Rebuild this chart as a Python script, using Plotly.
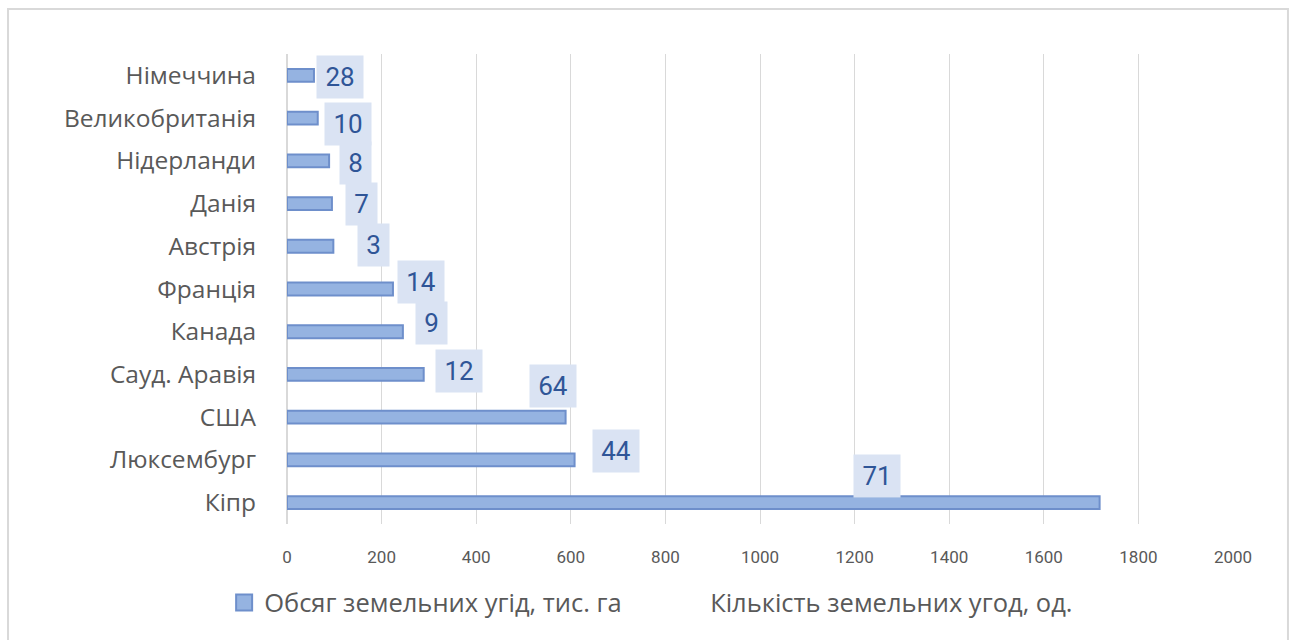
import plotly.graph_objects as go

# countries top -> bottom as in the source chart
countries = [
    "Німеччина", "Великобританія", "Нідерланди", "Данія", "Австрія",
    "Франція", "Канада", "Сауд. Аравія", "США", "Люксембург", "Кіпр",
]
# land area, thousand ha
area = [57, 65, 89, 95, 98, 224, 245, 289, 589, 608, 1718]
# number of land deals
deals = [28, 10, 8, 7, 3, 14, 9, 12, 64, 44, 71]

area_name = "Обсяг земельних угід, тис. га"
deals_name = "Кількість земельних угод, од."

# hand-placed data label spots (x in axis units, vertical shift in px)
label_x = [111, 130, 145, 157, 182, 283, 306, 363, 562, 695, 1247]
label_dy = [-2, -6, -2, 0, 1, 7, 9, 3, 31, 9, 27]

GRAY = "#595959"
GRID = "#d9d9d9"
BAR_FILL = "#95B3E1"
BAR_LINE = "#6E8FCB"
TEXT_FONT = "Open Sans, sans-serif"

fig = go.Figure()
fig.add_trace(go.Bar(
    y=countries, x=area, orientation="h", name=area_name,
    width=0.3, showlegend=False,
    marker=dict(color=BAR_FILL, line=dict(color=BAR_LINE, width=2)),
))
# legend swatch only (bigger square than the bar legend glyph)
fig.add_trace(go.Scatter(
    x=[None], y=[None], mode="markers", name=area_name,
    marker=dict(symbol="square", size=16, color=BAR_FILL,
                line=dict(color=BAR_LINE, width=2)),
))
# second series is invisible in the original, only its labels show
fig.add_trace(go.Bar(
    y=countries, x=deals, orientation="h", name=deals_name,
    xaxis="x2", width=0.3,
    marker=dict(color="rgba(0,0,0,0)", line=dict(width=0)),
))

for c, n, lx, dy in zip(countries, deals, label_x, label_dy):
    txt = str(n)
    fig.add_annotation(
        x=lx, y=c, xref="x", yref="y", text=txt, showarrow=False,
        yshift=dy, bgcolor="#DAE3F3", borderpad=4,
        width=8 + 15 * len(txt), height=34,
        font=dict(family="Roboto, sans-serif", size=26, color="#2F5597"),
    )

fig.update_layout(
    width=1290, height=640,
    margin=dict(l=287, r=57, t=54, b=116),
    paper_bgcolor="white", plot_bgcolor="white",
    barmode="overlay",
    showlegend=True,
    legend=dict(
        orientation="h", x=0.405, xanchor="center", y=-0.168, yanchor="middle",
        font=dict(family=TEXT_FONT, size=25.5, color=GRAY),
        itemwidth=30, traceorder="normal",
        entrywidth=401, entrywidthmode="pixels",
    ),
    xaxis=dict(
        range=[0, 2000], dtick=200, showgrid=True, gridcolor=GRID, gridwidth=1,
        zeroline=True, zerolinecolor=GRID, showline=False, ticks="",
        tickfont=dict(family="Roboto, sans-serif", size=17, color=GRAY),
        ticklabelstandoff=21,
    ),
    xaxis2=dict(overlaying="x", range=[0, 120], visible=False),
    yaxis=dict(
        range=[10.5, -0.5], showgrid=False, ticks="", showline=False,
        tickfont=dict(family=TEXT_FONT, size=24.5, color=GRAY),
        ticklabelstandoff=30,
    ),
    shapes=[dict(
        type="rect", xref="paper", yref="paper",
        x0=-0.2949, x1=1.0581, y0=-0.268, y1=1.0957,
        line=dict(color=GRID, width=2), fillcolor="rgba(0,0,0,0)", layer="below",
    )],
)

# drop the default 8px page margin so the figure fills the window
fig.write_html(
    "out.html",
    config={"displayModeBar": False},
    post_script="document.body.style.margin='0';",
)
